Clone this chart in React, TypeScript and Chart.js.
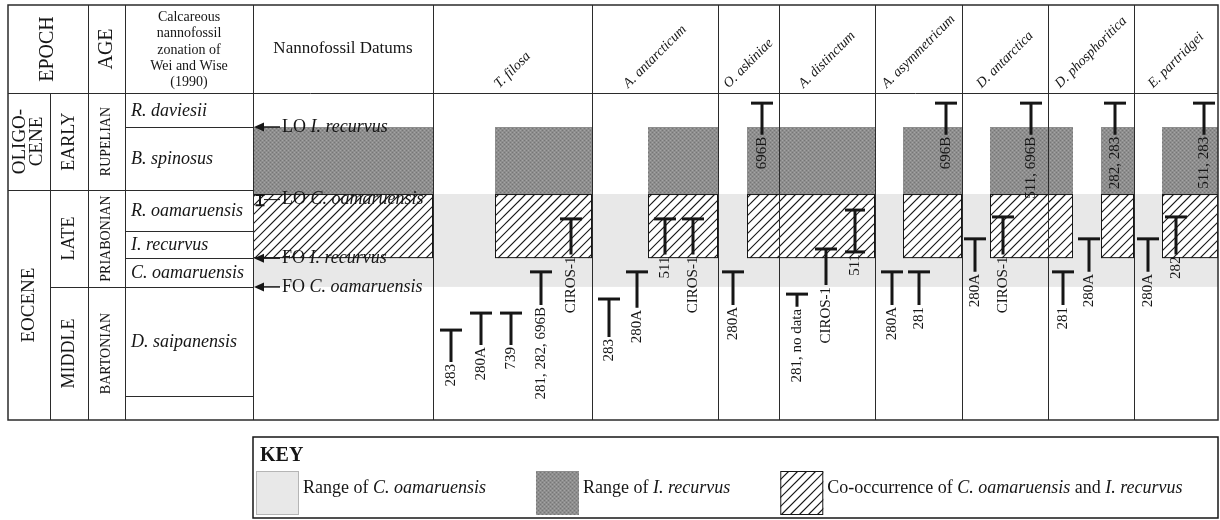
import React, { useEffect, useRef } from 'react';
import { Chart, registerables } from 'chart.js';

Chart.register(...registerables);

const SERIF = "'Liberation Serif', 'Times New Roman', 'DejaVu Serif', serif";
const INK = '#161616';
const RULE = '#2b2b2b';
const LIGHT = '#e8e8e8';

// ---- stratigraphic framework (levels: 0 = base of section shown, 100 = top of zonal column) ----
const zoneNames = ['R. daviesii', 'B. spinosus', 'R. oamaruensis', 'I. recurvus', 'C. oamaruensis', 'D. saipanensis', ''];
const zoneTops = [100, 89.6, 70.3, 57.8, 49.5, 40.7, 7.3];

const epochNames = [['OLIGO-', 'CENE'], ['EOCENE']];
const epochTops = [100, 70.3];
const subEpochNames = ['EARLY', 'LATE', 'MIDDLE'];
const ageNames = ['RUPELIAN', 'PRIABONIAN', 'BARTONIAN'];
const stageTops = [100, 70.3, 40.7];

// ---- nannofossil datums ----
const datumEvents = ['LO', 'LO', 'FO', 'FO'];
const datumTaxa = ['I. recurvus', 'C. oamaruensis', 'I. recurvus', 'C. oamaruensis'];
const datumLevels = [89.6, 69.1, 49.5, 40.7];
const datumLowest = [89.6, 65.7, 49.5, 40.7];

// ---- last occurrences of the taxa at each site ----
const speciesNames = ['T. filosa', 'A. antarcticum', 'O. askiniae', 'A. distinctum', 'A. asymmetricum', 'D. antarctica', 'D. phosphoritica', 'E. partridgei'];
const markerSpecies = [0, 0, 0, 0, 0, 1, 1, 1, 1, 2, 2, 3, 3, 3, 4, 4, 4, 5, 5, 5, 6, 6, 6, 7, 7, 7];
const markerSlot = [0, 1, 2, 3, 4, 0, 1, 2, 3, 0, 1, 0, 1, 2, 0, 1, 2, 0, 1, 2, 0, 1, 2, 0, 1, 2];
const markerTop = [27.5, 32.7, 32.7, 45.3, 61.5, 37.0, 45.3, 61.5, 61.5, 45.3, 96.9, 38.5, 52.3, 64.2, 45.3, 45.3, 96.9, 55.4, 62.1, 96.9, 45.3, 55.4, 96.9, 55.4, 62.1, 96.9];
const markerBase = [17.7, 22.9, 22.9, 35.2, 50.6, 25.4, 34.3, 50.6, 50.6, 35.2, 87.2, 34.6, 41.3, 51.4, 35.2, 35.2, 87.2, 45.3, 50.6, 87.2, 35.2, 45.3, 87.2, 45.3, 50.6, 87.2];
const markerLabel = ['283', '280A', '739', '281, 282, 696B', 'CIROS-1', '283', '280A', '511', 'CIROS-1', '280A', '696B', '281, no data', 'CIROS-1', '511', '280A', '281', '696B', '280A', 'CIROS-1', '511, 696B', '281', '280A', '282, 283', '280A', '282', '511, 283'];
const markerBothEnds = [false, false, false, false, false, false, false, false, false, false, false, false, false, true, false, false, false, false, false, false, false, false, false, false, false, false];

// ---- horizontal layout (figure units) ----
const X_SPAN = 1210;
const leftColWidths = [42, 38, 37, 128]; // epoch, sub-epoch, age, zone
const datumColWidth = 180;
const speciesColWidths = [159, 126, 61, 96, 87, 86, 86, 84];
const slotOffset = [18, 17, 15, 18, 17, 13, 15, 14];
const slotStep = [30, 28, 29, 29, 27, 28, 26, 28];
const bandLeft = [487, 640, 739, 895, 982, 1093, 1154];
const bandRight = [584, 710, 867, 954, 1065, 1126, 1210];

const leftEdges = leftColWidths.reduce<number[]>((a, w) => [...a, a[a.length - 1] + w], [0]);
const datumLeft = leftEdges[leftEdges.length - 1];
const speciesEdges = speciesColWidths.reduce<number[]>((a, w) => [...a, a[a.length - 1] + w], [datumLeft + datumColWidth]);
const slotX = (sp: number, slot: number) => speciesEdges[sp] + slotOffset[sp] + slot * slotStep[sp];

type Run = { t: string; s?: string };

function drawRuns(ctx: CanvasRenderingContext2D, runs: Run[], x: number, y: number, size: number, align: 'left' | 'center' = 'left') {
  let total = 0;
  runs.forEach((r) => { ctx.font = `${r.s || 'normal'} ${size}px ${SERIF}`; total += ctx.measureText(r.t).width; });
  let cx = align === 'center' ? x - total / 2 : x;
  ctx.textAlign = 'left';
  runs.forEach((r) => {
    ctx.font = `${r.s || 'normal'} ${size}px ${SERIF}`;
    ctx.fillText(r.t, cx, y);
    cx += ctx.measureText(r.t).width;
  });
  return total;
}

function rotatedText(ctx: CanvasRenderingContext2D, text: string, x: number, y: number, angle: number, font: string, align: CanvasTextAlign = 'center') {
  ctx.save();
  ctx.translate(x, y);
  ctx.rotate(angle);
  ctx.font = font;
  ctx.textAlign = align;
  ctx.textBaseline = 'middle';
  ctx.fillText(text, 0, 0);
  ctx.restore();
}

function hatch(ctx: CanvasRenderingContext2D, x0: number, y0: number, w: number, h: number) {
  ctx.save();
  ctx.beginPath();
  ctx.rect(x0, y0, w, h);
  ctx.clip();
  ctx.fillStyle = '#fff';
  ctx.fillRect(x0, y0, w, h);
  ctx.strokeStyle = INK;
  ctx.lineWidth = 1.2;
  const step = 9;
  const start = Math.floor((x0 + y0) / step) * step;
  for (let c = start; c <= x0 + w + y0 + h + step; c += step) {
    ctx.beginPath();
    ctx.moveTo(c - y0, y0);
    ctx.lineTo(c - y0 - h, y0 + h);
    ctx.stroke();
  }
  ctx.restore();
  ctx.save();
  ctx.strokeStyle = INK;
  ctx.lineWidth = 1;
  ctx.strokeRect(x0 + 0.5, y0 + 0.5, w - 1, h - 1);
  ctx.restore();
}

let stippleCache: CanvasPattern | null = null;
function stipple(ctx: CanvasRenderingContext2D) {
  if (stippleCache) return stippleCache;
  const c = document.createElement('canvas');
  c.width = 4;
  c.height = 4;
  const g = c.getContext('2d')!;
  g.fillStyle = '#8e8e8e';
  g.fillRect(0, 0, 4, 4);
  g.fillStyle = '#767676';
  g.fillRect(0, 0, 1, 1);
  g.fillRect(2, 2, 1, 1);
  g.fillStyle = '#a4a4a4';
  g.fillRect(2, 0, 1, 1);
  g.fillRect(0, 2, 1, 1);
  stippleCache = ctx.createPattern(c, 'repeat');
  return stippleCache!;
}

const figurePlugin = {
  id: 'nannoFigure',
  beforeDatasetsDraw(chart: any) {
    const { ctx, scales } = chart;
    const X = (v: number) => scales.x.getPixelForValue(v);
    const Y = (v: number) => scales.y.getPixelForValue(v);
    ctx.save();
    ctx.fillStyle = '#fff';
    ctx.fillRect(0, 0, chart.width, chart.height);

    // range of C. oamaruensis across datum and taxon columns
    const gx0 = X(datumLeft);
    const gx1 = X(X_SPAN);
    ctx.fillStyle = LIGHT;
    ctx.fillRect(gx0, Y(datumLevels[1]), gx1 - gx0, Y(datumLevels[3]) - Y(datumLevels[1]));

    // range of I. recurvus, hatched where it overlaps C. oamaruensis
    const boxes: [number, number][] = [[datumLeft, datumLeft + datumColWidth], ...bandLeft.map((l, i) => [l, bandRight[i]] as [number, number])];
    const yLoRec = Y(datumLevels[0]);
    const yLoOam = Y(datumLevels[1]);
    const yFoRec = Y(datumLevels[2]);
    boxes.forEach(([l, r]) => {
      const x0 = X(l);
      const x1 = X(r);
      ctx.fillStyle = stipple(ctx);
      ctx.fillRect(x0, yLoRec, x1 - x0, yLoOam - yLoRec);
      hatch(ctx, x0, yLoOam, x1 - x0, yFoRec - yLoOam);
    });
    ctx.restore();
  },
  afterDatasetsDraw(chart: any) {
    const { ctx, scales, chartArea: a } = chart;
    const X = (v: number) => scales.x.getPixelForValue(v);
    const Y = (v: number) => scales.y.getPixelForValue(v);
    const headTop = a.top - 88;
    ctx.save();
    ctx.fillStyle = INK;
    ctx.strokeStyle = RULE;

    // ---- table rules ----
    const vline = (u: number, y0: number, y1: number) => {
      const px = Math.round(X(u)) + 0.5;
      ctx.beginPath(); ctx.moveTo(px, y0); ctx.lineTo(px, y1); ctx.stroke();
    };
    const hline = (v: number, u0: number, u1: number) => {
      const py = Math.round(Y(v)) + 0.5;
      ctx.beginPath(); ctx.moveTo(X(u0), py); ctx.lineTo(X(u1), py); ctx.stroke();
    };
    ctx.lineWidth = 1;
    vline(leftEdges[1], a.top, a.bottom);
    [leftEdges[2], leftEdges[3], datumLeft, ...speciesEdges.slice(0, -1)].forEach((u) => vline(u, headTop, a.bottom));
    hline(100, 0, X_SPAN);
    zoneTops.slice(1).forEach((v) => hline(v, leftEdges[3], datumLeft));
    hline(stageTops[1], 0, datumLeft);
    hline(stageTops[2], leftEdges[1], datumLeft);
    ctx.lineWidth = 1.5;
    ctx.strokeRect(X(0), headTop, X(X_SPAN) - X(0), a.bottom - headTop);

    // ---- header row ----
    const hc = headTop + 44;
    rotatedText(ctx, 'EPOCH', X((leftEdges[0] + leftEdges[2]) / 2), hc, -Math.PI / 2, `20px ${SERIF}`);
    rotatedText(ctx, 'AGE', X((leftEdges[2] + leftEdges[3]) / 2), hc, -Math.PI / 2, `20px ${SERIF}`);
    const zoneHead = ['Calcareous', 'nannofossil', 'zonation of', 'Wei and Wise', '(1990)'];
    ctx.textBaseline = 'middle';
    ctx.textAlign = 'center';
    ctx.font = `14px ${SERIF}`;
    zoneHead.forEach((t, i) => ctx.fillText(t, X((leftEdges[3] + leftEdges[4]) / 2), hc + (i - 2) * 16.3 + 1));
    ctx.font = `17px ${SERIF}`;
    ctx.fillText('Nannofossil Datums', X(datumLeft + datumColWidth / 2), hc);
    speciesNames.forEach((n, i) => {
      const font = `italic 14px ${SERIF}`;
      ctx.font = font;
      const w = ctx.measureText(n).width;
      const cx = X((speciesEdges[i] + speciesEdges[i + 1]) / 2);
      rotatedText(ctx, n, cx, a.top - 7 - w * 0.3536, -Math.PI / 4, font);
    });

    // ---- epoch / age / zone columns ----
    epochNames.forEach((lines, i) => {
      const top = epochTops[i];
      const bot = i + 1 < epochTops.length ? epochTops[i + 1] : 0;
      const cy = (Y(top) + Y(bot)) / 2;
      const cx = X((leftEdges[0] + leftEdges[1]) / 2);
      lines.forEach((t, k) => rotatedText(ctx, t, cx + (k - (lines.length - 1) / 2) * 17, cy, -Math.PI / 2, `19px ${SERIF}`));
    });
    stageTops.forEach((top, i) => {
      const bot = i + 1 < stageTops.length ? stageTops[i + 1] : 0;
      const cy = (Y(top) + Y(bot)) / 2;
      rotatedText(ctx, subEpochNames[i], X((leftEdges[1] + leftEdges[2]) / 2), cy, -Math.PI / 2, `18px ${SERIF}`);
      rotatedText(ctx, ageNames[i], X((leftEdges[2] + leftEdges[3]) / 2), cy, -Math.PI / 2, `14px ${SERIF}`);
    });
    ctx.textBaseline = 'middle';
    zoneNames.forEach((n, i) => {
      if (!n) return;
      const bot = zoneTops[i + 1] ?? 0;
      const cy = (Y(zoneTops[i]) + Y(bot)) / 2;
      drawRuns(ctx, [{ t: n, s: 'italic' }], X(leftEdges[3]) + 6, cy + 1, 18);
    });

    // ---- datum column ----
    const dx = X(datumLeft);
    datumLevels.forEach((lv, i) => {
      const yTop = Y(lv);
      const yLow = Y(datumLowest[i]);
      const yl = (yTop + yLow) / 2;
      ctx.strokeStyle = INK;
      ctx.fillStyle = INK;
      if (datumLowest[i] === lv) {
        ctx.beginPath();
        ctx.moveTo(dx + 1, yl);
        ctx.lineTo(dx + 11, yl - 4.5);
        ctx.lineTo(dx + 11, yl + 4.5);
        ctx.closePath();
        ctx.fill();
        ctx.lineWidth = 1.5;
        ctx.beginPath(); ctx.moveTo(dx + 10, yl); ctx.lineTo(dx + 27, yl); ctx.stroke();
      } else {
        ctx.lineWidth = 2;
        const bx = dx + 7;
        ctx.beginPath();
        ctx.moveTo(bx - 4.5, yTop + 1); ctx.lineTo(bx + 4.5, yTop + 1);
        ctx.moveTo(bx, yTop + 1); ctx.lineTo(bx, yLow);
        ctx.moveTo(bx - 4.5, yLow); ctx.lineTo(bx + 4.5, yLow);
        ctx.stroke();
        ctx.lineWidth = 1;
        ctx.beginPath(); ctx.moveTo(bx + 4, yl); ctx.lineTo(dx + 27, yl); ctx.stroke();
      }
      ctx.textBaseline = 'middle';
      drawRuns(ctx, [{ t: datumEvents[i] + ' ' }, { t: datumTaxa[i], s: 'italic' }], dx + 29, yl, 18);
    });

    // ---- site labels under each range top ----
    ctx.fillStyle = INK;
    markerLabel.forEach((lab, k) => {
      const px = X(slotX(markerSpecies[k], markerSlot[k]));
      const py = Y(markerBase[k]) + 2;
      rotatedText(ctx, lab, px, py, -Math.PI / 2, `15px ${SERIF}`, 'right');
    });

    // ---- key ----
    const kx0 = X(datumLeft);
    const kx1 = X(X_SPAN);
    const ky0 = a.bottom + 17;
    const ky1 = a.bottom + 98;
    ctx.strokeStyle = INK;
    ctx.lineWidth = 1.5;
    ctx.strokeRect(kx0, ky0, kx1 - kx0, ky1 - ky0);
    ctx.fillStyle = INK;
    ctx.textBaseline = 'alphabetic';
    drawRuns(ctx, [{ t: 'KEY', s: 'bold' }], kx0 + 7, ky0 + 24, 20);
    const sy0 = ky0 + 34;
    const sh = ky1 - 3 - sy0;
    const sw = 43;
    const ty = ky0 + 51;
    const items: Run[][] = [
      [{ t: 'Range of ' }, { t: 'C. oamaruensis', s: 'italic' }],
      [{ t: 'Range of ' }, { t: 'I. recurvus', s: 'italic' }],
      [{ t: 'Co-occurrence of ' }, { t: 'C. oamaruensis', s: 'italic' }, { t: ' and ' }, { t: 'I. recurvus', s: 'italic' }],
    ];
    let cx = kx0 + 3;
    items.forEach((runs, i) => {
      if (i === 0) {
        ctx.fillStyle = LIGHT;
        ctx.fillRect(cx, sy0, sw, sh);
        ctx.strokeStyle = '#b5b5b5';
        ctx.lineWidth = 1;
        ctx.strokeRect(cx + 0.5, sy0 + 0.5, sw - 1, sh - 1);
      } else if (i === 1) {
        ctx.fillStyle = stipple(ctx);
        ctx.fillRect(cx, sy0, sw, sh);
      } else {
        hatch(ctx, cx, sy0, sw, sh);
      }
      ctx.fillStyle = INK;
      ctx.textBaseline = 'middle';
      const w = drawRuns(ctx, runs, cx + sw + 4, ty, 18);
      cx += sw + 4 + w + 50;
    });
    ctx.restore();
  },
};

export default function App() {
  const ref = useRef<HTMLCanvasElement>(null);
  useEffect(() => {
    const canvas = ref.current;
    if (!canvas) return;
    const datasets = markerLabel.map((_, k) => {
      const x = slotX(markerSpecies[k], markerSlot[k]);
      return {
        label: markerLabel[k],
        data: [{ x, y: markerTop[k] }, { x, y: markerBase[k] }],
        showLine: true,
        borderColor: INK,
        borderWidth: 3,
        borderCapStyle: 'butt',
        pointStyle: 'line',
        pointRadius: markerBothEnds[k] ? [10, 10] : [11, 0],
        pointHoverRadius: 0,
        pointBorderWidth: 3,
        pointBorderColor: INK,
        pointBackgroundColor: INK,
        clip: false,
      };
    });
    const chart = new Chart(canvas, {
      type: 'scatter',
      data: { datasets: datasets as any },
      options: {
        responsive: false,
        animation: false,
        events: [],
        layout: { autoPadding: false, padding: { left: 8, right: 2, top: 93, bottom: 100 } },
        scales: {
          x: { type: 'linear', min: 0, max: X_SPAN, display: false },
          y: { type: 'linear', min: 0, max: 100, display: false },
        },
        plugins: { legend: { display: false }, tooltip: { enabled: false } },
      },
      plugins: [figurePlugin as any],
    });
    return () => chart.destroy();
  }, []);
  return (
    <div style={{ position: 'fixed', left: 0, top: 0, width: 1220, height: 520, background: '#fff' }}>
      <canvas ref={ref} width={1220} height={520} style={{ display: 'block', width: 1220, height: 520 }} />
    </div>
  );
}
